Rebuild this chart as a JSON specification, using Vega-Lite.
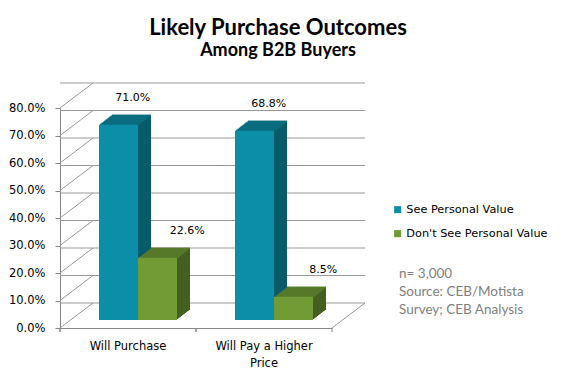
{
  "$schema": "https://vega.github.io/schema/vega-lite/v6.json",
  "width": 272,
  "height": 220,
  "autosize": {"type": "none"},
  "padding": {"left": 60, "top": 108, "right": 231, "bottom": 47},
  "background": "white",
  "config": {
    "view": {"stroke": null},
    "font": "DejaVu Sans",
    "axisY": {"values": [0, 0.1, 0.2, 0.3, 0.4, 0.5, 0.6, 0.7, 0.8], "format": ".1%", "grid": false, "title": null,
      "labelOverlap": false, "domainColor": "#868686", "tickColor": "#868686", "tickSize": 5, "labelPadding": 10,
      "labelFont": "DejaVu Sans", "labelFontSize": 11.5, "labelColor": "black"},
    "axisX": {"title": null, "labelAngle": 0, "labelAlign": "center", "ticks": false, "domainColor": "#868686",
      "labelPadding": 12, "labelFont": "DejaVu Sans", "labelFontSize": 11.5, "labelColor": "black", "labelLineHeight": 17}
  },
  "title": {
    "text": "Likely Purchase Outcomes",
    "subtitle": "Among B2B Buyers",
    "font": "Lato", "fontSize": 22, "fontWeight": "bold", "color": "black",
    "subtitleFont": "Lato", "subtitleFontSize": 18, "subtitleFontWeight": "bold", "subtitleColor": "black",
    "anchor": "middle", "dx": 82, "offset": 22, "subtitlePadding": 2
  },
  "datasets": {
    "bars": [
      {"cat": "Will Purchase", "s": "See Personal Value", "v": 0.71},
      {"cat": "Will Purchase", "s": "Don't See Personal Value", "v": 0.226},
      {"cat": "Will Pay a Higher Price", "s": "See Personal Value", "v": 0.688},
      {"cat": "Will Pay a Higher Price", "s": "Don't See Personal Value", "v": 0.085}
    ],
    "grid": [{"t": 0}, {"t": 0.1}, {"t": 0.2}, {"t": 0.3}, {"t": 0.4}, {"t": 0.5}, {"t": 0.6}, {"t": 0.7}, {"t": 0.8}]
  },
  "layer": [
    {
      "data": {"name": "grid"},
      "mark": {"type": "rule", "color": "#999999", "strokeWidth": 1, "xOffset": 33, "x2Offset": 33, "yOffset": -25},
      "encoding": {
        "y": {"field": "t", "type": "quantitative", "scale": {"domain": [0, 0.8], "nice": false},
          "axis": {"values": [0, 0.1, 0.2, 0.3, 0.4, 0.5, 0.6, 0.7, 0.8], "format": ".1%"}}
      }
    },
    {
      "data": {"name": "grid"},
      "mark": {"type": "rule", "color": "#999999", "strokeWidth": 1, "x2Offset": 33, "y2Offset": -25},
      "encoding": {
        "x": {"datum": "Will Purchase", "type": "nominal", "bandPosition": 0,
          "axis": {"labelExpr": "datum.label == 'Will Pay a Higher Price' ? ['Will Pay a Higher', 'Price'] : datum.label"}},
        "x2": {"datum": "Will Purchase", "bandPosition": 0},
        "y": {"field": "t", "type": "quantitative",
          "axis": {"values": [0, 0.1, 0.2, 0.3, 0.4, 0.5, 0.6, 0.7, 0.8], "format": ".1%"}},
        "y2": {"field": "t"}
      }
    },
    {
      "data": {"values": [{"t": 0}]},
      "mark": {"type": "rule", "color": "#999999", "strokeWidth": 1, "x2Offset": 33, "y2Offset": -25},
      "encoding": {
        "x": {"datum": "Will Pay a Higher Price", "type": "nominal", "bandPosition": 1,
          "axis": {"labelExpr": "datum.label == 'Will Pay a Higher Price' ? ['Will Pay a Higher', 'Price'] : datum.label"}},
        "x2": {"datum": "Will Pay a Higher Price", "bandPosition": 1},
        "y": {"field": "t", "type": "quantitative",
          "axis": {"values": [0, 0.1, 0.2, 0.3, 0.4, 0.5, 0.6, 0.7, 0.8], "format": ".1%"}},
        "y2": {"field": "t"}
      }
    },
    {
      "data": {"name": "bars"},
      "mark": {"type": "rule", "color": "#868686", "strokeWidth": 1, "y2Offset": 4},
      "encoding": {
        "x": {"field": "cat", "type": "nominal", "bandPosition": 0,
          "axis": {"labelExpr": "datum.label == 'Will Pay a Higher Price' ? ['Will Pay a Higher', 'Price'] : datum.label"}},
        "y": {"datum": 0, "type": "quantitative",
          "axis": {"values": [0, 0.1, 0.2, 0.3, 0.4, 0.5, 0.6, 0.7, 0.8], "format": ".1%"}},
        "y2": {"datum": 0}
      }
    },
    {
      "data": {"values": [{"t": 0}]},
      "mark": {"type": "rule", "color": "#868686", "strokeWidth": 1, "y2Offset": 4},
      "encoding": {
        "x": {"datum": "Will Pay a Higher Price", "type": "nominal", "bandPosition": 1,
          "axis": {"labelExpr": "datum.label == 'Will Pay a Higher Price' ? ['Will Pay a Higher', 'Price'] : datum.label"}},
        "y": {"field": "t", "type": "quantitative",
          "axis": {"values": [0, 0.1, 0.2, 0.3, 0.4, 0.5, 0.6, 0.7, 0.8], "format": ".1%"}},
        "y2": {"field": "t"}
      }
    },
    {
      "data": {"name": "bars"},
      "resolve": {"scale": {"xOffset": "independent"}},
      "encoding": {
        "x": {"field": "cat", "type": "nominal",
          "scale": {"domain": ["Will Purchase", "Will Pay a Higher Price"], "paddingInner": 0, "paddingOuter": 0},
          "axis": {"labelExpr": "datum.label == 'Will Pay a Higher Price' ? ['Will Pay a Higher', 'Price'] : datum.label"}},
        "xOffset": {"field": "s", "type": "nominal",
          "scale": {"domain": ["See Personal Value", "Don't See Personal Value"], "paddingInner": 0, "paddingOuter": 0.7436}},
        "y": {"field": "v", "type": "quantitative",
          "axis": {"values": [0, 0.1, 0.2, 0.3, 0.4, 0.5, 0.6, 0.7, 0.8], "format": ".1%"}}
      },
      "layer": [
        {"mark": {"type": "bar", "yOffset": -9, "y2Offset": -9}, "encoding": {"xOffset": {"field": "s", "type": "nominal", "scale": {"domain": ["See Personal Value", "Don't See Personal Value"], "paddingInner": 0, "paddingOuter": 0.7436, "range": [11.3, 147.3]}}, "fill": {"condition": {"test": "datum.s === 'See Personal Value'", "value": "#085B69"}, "value": "#445F20"}}},
        {"mark": {"type": "bar", "yOffset": -10, "y2Offset": -10}, "encoding": {"xOffset": {"field": "s", "type": "nominal", "scale": {"domain": ["See Personal Value", "Don't See Personal Value"], "paddingInner": 0, "paddingOuter": 0.7436, "range": [12.6, 148.6]}}, "fill": {"condition": {"test": "datum.s === 'See Personal Value'", "value": "#085B69"}, "value": "#445F20"}}},
        {"mark": {"type": "bar", "yOffset": -11, "y2Offset": -11}, "encoding": {"xOffset": {"field": "s", "type": "nominal", "scale": {"domain": ["See Personal Value", "Don't See Personal Value"], "paddingInner": 0, "paddingOuter": 0.7436, "range": [13.9, 149.9]}}, "fill": {"condition": {"test": "datum.s === 'See Personal Value'", "value": "#085B69"}, "value": "#445F20"}}},
        {"mark": {"type": "bar", "yOffset": -12, "y2Offset": -12}, "encoding": {"xOffset": {"field": "s", "type": "nominal", "scale": {"domain": ["See Personal Value", "Don't See Personal Value"], "paddingInner": 0, "paddingOuter": 0.7436, "range": [15.2, 151.2]}}, "fill": {"condition": {"test": "datum.s === 'See Personal Value'", "value": "#085B69"}, "value": "#445F20"}}},
        {"mark": {"type": "bar", "yOffset": -13, "y2Offset": -13}, "encoding": {"xOffset": {"field": "s", "type": "nominal", "scale": {"domain": ["See Personal Value", "Don't See Personal Value"], "paddingInner": 0, "paddingOuter": 0.7436, "range": [16.5, 152.5]}}, "fill": {"condition": {"test": "datum.s === 'See Personal Value'", "value": "#085B69"}, "value": "#445F20"}}},
        {"mark": {"type": "bar", "yOffset": -14, "y2Offset": -14}, "encoding": {"xOffset": {"field": "s", "type": "nominal", "scale": {"domain": ["See Personal Value", "Don't See Personal Value"], "paddingInner": 0, "paddingOuter": 0.7436, "range": [17.8, 153.8]}}, "fill": {"condition": {"test": "datum.s === 'See Personal Value'", "value": "#085B69"}, "value": "#445F20"}}},
        {"mark": {"type": "bar", "yOffset": -15, "y2Offset": -15}, "encoding": {"xOffset": {"field": "s", "type": "nominal", "scale": {"domain": ["See Personal Value", "Don't See Personal Value"], "paddingInner": 0, "paddingOuter": 0.7436, "range": [19.1, 155.1]}}, "fill": {"condition": {"test": "datum.s === 'See Personal Value'", "value": "#085B69"}, "value": "#445F20"}}},
        {"mark": {"type": "bar", "yOffset": -16, "y2Offset": -16}, "encoding": {"xOffset": {"field": "s", "type": "nominal", "scale": {"domain": ["See Personal Value", "Don't See Personal Value"], "paddingInner": 0, "paddingOuter": 0.7436, "range": [20.4, 156.4]}}, "fill": {"condition": {"test": "datum.s === 'See Personal Value'", "value": "#085B69"}, "value": "#445F20"}}},
        {"mark": {"type": "bar", "yOffset": -17, "y2Offset": -17}, "encoding": {"xOffset": {"field": "s", "type": "nominal", "scale": {"domain": ["See Personal Value", "Don't See Personal Value"], "paddingInner": 0, "paddingOuter": 0.7436, "range": [21.7, 157.7]}}, "fill": {"condition": {"test": "datum.s === 'See Personal Value'", "value": "#085B69"}, "value": "#445F20"}}},
        {"mark": {"type": "bar", "yOffset": -18, "y2Offset": -18}, "encoding": {"xOffset": {"field": "s", "type": "nominal", "scale": {"domain": ["See Personal Value", "Don't See Personal Value"], "paddingInner": 0, "paddingOuter": 0.7436, "range": [23, 159]}}, "fill": {"condition": {"test": "datum.s === 'See Personal Value'", "value": "#085B69"}, "value": "#445F20"}}},
        {"mark": {"type": "bar", "yOffset": -9, "y2Offset": -7.5}, "encoding": {"y2": {"field": "v"}, "xOffset": {"field": "s", "type": "nominal", "scale": {"domain": ["See Personal Value", "Don't See Personal Value"], "paddingInner": 0, "paddingOuter": 0.7436, "range": [11.3, 147.3]}}, "fill": {"condition": {"test": "datum.s === 'See Personal Value'", "value": "#0A6E7F"}, "value": "#56792A"}}},
        {"mark": {"type": "bar", "yOffset": -10, "y2Offset": -8.5}, "encoding": {"y2": {"field": "v"}, "xOffset": {"field": "s", "type": "nominal", "scale": {"domain": ["See Personal Value", "Don't See Personal Value"], "paddingInner": 0, "paddingOuter": 0.7436, "range": [12.6, 148.6]}}, "fill": {"condition": {"test": "datum.s === 'See Personal Value'", "value": "#0A6E7F"}, "value": "#56792A"}}},
        {"mark": {"type": "bar", "yOffset": -11, "y2Offset": -9.5}, "encoding": {"y2": {"field": "v"}, "xOffset": {"field": "s", "type": "nominal", "scale": {"domain": ["See Personal Value", "Don't See Personal Value"], "paddingInner": 0, "paddingOuter": 0.7436, "range": [13.9, 149.9]}}, "fill": {"condition": {"test": "datum.s === 'See Personal Value'", "value": "#0A6E7F"}, "value": "#56792A"}}},
        {"mark": {"type": "bar", "yOffset": -12, "y2Offset": -10.5}, "encoding": {"y2": {"field": "v"}, "xOffset": {"field": "s", "type": "nominal", "scale": {"domain": ["See Personal Value", "Don't See Personal Value"], "paddingInner": 0, "paddingOuter": 0.7436, "range": [15.2, 151.2]}}, "fill": {"condition": {"test": "datum.s === 'See Personal Value'", "value": "#0A6E7F"}, "value": "#56792A"}}},
        {"mark": {"type": "bar", "yOffset": -13, "y2Offset": -11.5}, "encoding": {"y2": {"field": "v"}, "xOffset": {"field": "s", "type": "nominal", "scale": {"domain": ["See Personal Value", "Don't See Personal Value"], "paddingInner": 0, "paddingOuter": 0.7436, "range": [16.5, 152.5]}}, "fill": {"condition": {"test": "datum.s === 'See Personal Value'", "value": "#0A6E7F"}, "value": "#56792A"}}},
        {"mark": {"type": "bar", "yOffset": -14, "y2Offset": -12.5}, "encoding": {"y2": {"field": "v"}, "xOffset": {"field": "s", "type": "nominal", "scale": {"domain": ["See Personal Value", "Don't See Personal Value"], "paddingInner": 0, "paddingOuter": 0.7436, "range": [17.8, 153.8]}}, "fill": {"condition": {"test": "datum.s === 'See Personal Value'", "value": "#0A6E7F"}, "value": "#56792A"}}},
        {"mark": {"type": "bar", "yOffset": -15, "y2Offset": -13.5}, "encoding": {"y2": {"field": "v"}, "xOffset": {"field": "s", "type": "nominal", "scale": {"domain": ["See Personal Value", "Don't See Personal Value"], "paddingInner": 0, "paddingOuter": 0.7436, "range": [19.1, 155.1]}}, "fill": {"condition": {"test": "datum.s === 'See Personal Value'", "value": "#0A6E7F"}, "value": "#56792A"}}},
        {"mark": {"type": "bar", "yOffset": -16, "y2Offset": -14.5}, "encoding": {"y2": {"field": "v"}, "xOffset": {"field": "s", "type": "nominal", "scale": {"domain": ["See Personal Value", "Don't See Personal Value"], "paddingInner": 0, "paddingOuter": 0.7436, "range": [20.4, 156.4]}}, "fill": {"condition": {"test": "datum.s === 'See Personal Value'", "value": "#0A6E7F"}, "value": "#56792A"}}},
        {"mark": {"type": "bar", "yOffset": -17, "y2Offset": -15.5}, "encoding": {"y2": {"field": "v"}, "xOffset": {"field": "s", "type": "nominal", "scale": {"domain": ["See Personal Value", "Don't See Personal Value"], "paddingInner": 0, "paddingOuter": 0.7436, "range": [21.7, 157.7]}}, "fill": {"condition": {"test": "datum.s === 'See Personal Value'", "value": "#0A6E7F"}, "value": "#56792A"}}},
        {"mark": {"type": "bar", "yOffset": -18, "y2Offset": -16.5}, "encoding": {"y2": {"field": "v"}, "xOffset": {"field": "s", "type": "nominal", "scale": {"domain": ["See Personal Value", "Don't See Personal Value"], "paddingInner": 0, "paddingOuter": 0.7436, "range": [23, 159]}}, "fill": {"condition": {"test": "datum.s === 'See Personal Value'", "value": "#0A6E7F"}, "value": "#56792A"}}},
        {
          "mark": {"type": "bar", "yOffset": -8, "y2Offset": -8},
          "encoding": {
            "xOffset": {"field": "s", "type": "nominal", "scale": {"domain": ["See Personal Value", "Don't See Personal Value"], "paddingInner": 0, "paddingOuter": 0.7436, "range": [10, 146]}},
            "color": {"field": "s", "type": "nominal",
              "scale": {"domain": ["See Personal Value", "Don't See Personal Value"], "range": ["#0B8FA9", "#729A35"]},
              "legend": {
                "title": ["n= 3,000", "Source: CEB/Motista", "Survey; CEB Analysis"],
                "titleOrient": "bottom", "titleAnchor": "start", "titleAlign": "left", "titleLimit": 300,
                "titleFont": "Lato", "titleFontSize": 13.5, "titleFontWeight": "normal", "titleColor": "#7f7f7f",
                "titleLineHeight": 18, "titlePadding": 28,
                "orient": "none", "legendX": 339, "legendY": 96,
                "symbolType": "square", "symbolSize": 50, "symbolStrokeWidth": 0, "symbolOffset": -7,
                "labelFont": "DejaVu Sans", "labelFontSize": 11.3, "labelColor": "black", "labelLimit": 250,
                "labelOffset": 3, "rowPadding": 12
              }}
          }
        },
        {
          "mark": {"type": "text", "dx": 32, "dy": -35, "font": "DejaVu Sans", "fontSize": 11, "color": "black"},
          "encoding": {"text": {"field": "v", "type": "quantitative", "format": ".1%"}}
        }
      ]
    }
  ]
}
